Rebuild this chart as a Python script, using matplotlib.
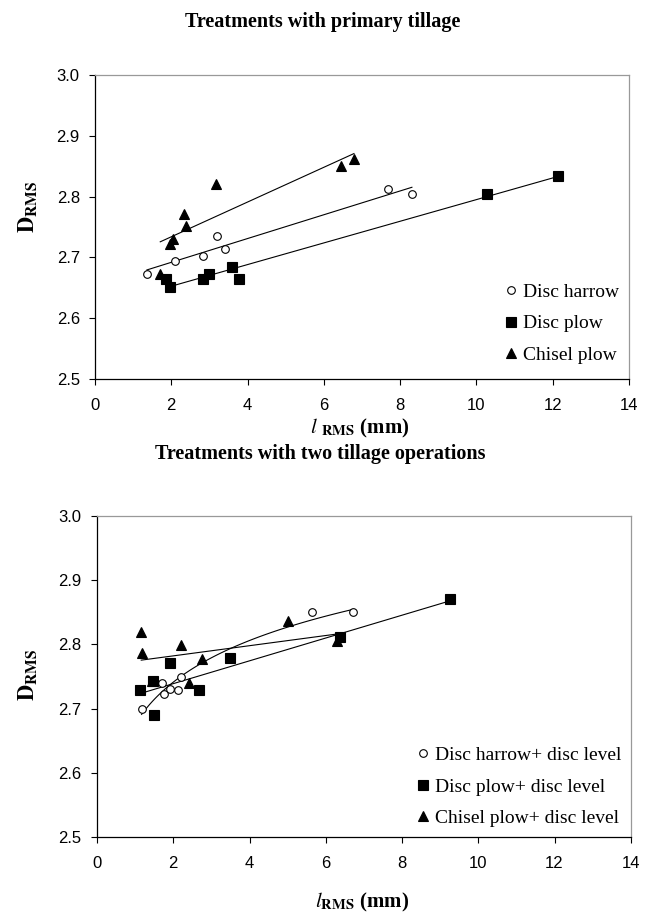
import numpy as np
import matplotlib
matplotlib.use('Agg')
import matplotlib.pyplot as plt

plt.rcParams['mathtext.fontset'] = 'stix'

# primary tillage (top panel)
dh_x = [1.36, 2.09, 2.84, 3.21, 3.40, 7.68, 8.31]
dh_y = [2.673, 2.694, 2.702, 2.735, 2.713, 2.813, 2.804]
dp_x = [1.87, 1.97, 2.84, 3.00, 3.59, 3.77, 10.28, 12.15]
dp_y = [2.664, 2.651, 2.665, 2.673, 2.684, 2.664, 2.804, 2.833]
cp_x = [1.71, 1.97, 2.04, 2.34, 2.39, 3.18, 6.44, 6.79]
cp_y = [2.673, 2.722, 2.731, 2.771, 2.752, 2.820, 2.851, 2.861]

# two tillage operations (bottom panel)
dhl_x = [1.17, 1.70, 1.75, 1.91, 2.12, 2.19, 5.63, 6.71]
dhl_y = [2.700, 2.740, 2.722, 2.731, 2.729, 2.749, 2.850, 2.850]
dpl_x = [1.14, 1.50, 1.47, 1.91, 2.68, 3.50, 6.38, 9.26]
dpl_y = [2.729, 2.690, 2.743, 2.771, 2.729, 2.778, 2.811, 2.870]
cpl_x = [1.16, 1.19, 1.44, 2.20, 2.40, 2.76, 5.02, 6.30]
cpl_y = [2.819, 2.787, 2.743, 2.799, 2.740, 2.777, 2.837, 2.806]

x_ticks = [0, 2, 4, 6, 8, 10, 12, 14]
y_ticks = [2.5, 2.6, 2.7, 2.8, 2.9, 3.0]

serif = 'Liberation Serif'
sans = 'Liberation Sans'


def trend(ax, x, y, kind='linear'):
    x = np.array(x)
    y = np.array(y)
    xs = np.linspace(x.min(), x.max(), 100)
    if kind == 'log':
        b, a = np.polyfit(np.log(x), y, 1)
        ys = a + b * np.log(xs)
    else:
        b, a = np.polyfit(x, y, 1)
        ys = a + b * xs
    ax.plot(xs, ys, color='black', lw=0.8, zorder=2)


def style(ax):
    ax.set_xlim(0, 14)
    ax.set_ylim(2.5, 3.0)
    ax.set_xticks(x_ticks)
    ax.set_yticks(y_ticks)
    ax.set_xticklabels([str(t) for t in x_ticks], fontfamily=sans, fontsize=12)
    ax.set_yticklabels(['%.1f' % t for t in y_ticks], fontfamily=sans, fontsize=12)
    ax.tick_params(direction='out', length=4, width=0.8, color='black', pad=7)
    ax.tick_params(axis='x', pad=10)
    for s in ['top', 'right']:
        ax.spines[s].set_color('#999999')
    for s in ['left', 'bottom']:
        ax.spines[s].set_color('black')
    for s in ax.spines.values():
        s.set_linewidth(0.9)


def scatter_set(ax, x, y, marker, face, ms, label):
    ax.plot(x, y, ls='none', marker=marker, mfc=face, mec='black', mew=0.8,
            ms=ms, label=label, zorder=3)


fig = plt.figure(figsize=(6.51, 9.22), dpi=100)

ax1 = fig.add_axes([0.146, 0.589, 0.820, 0.3297])
scatter_set(ax1, dh_x, dh_y, 'o', 'white', 5.5, 'Disc harrow')
scatter_set(ax1, dp_x, dp_y, 's', 'black', 6.5, 'Disc plow')
scatter_set(ax1, cp_x, cp_y, '^', 'black', 7.5, 'Chisel plow')
trend(ax1, dh_x, dh_y)
trend(ax1, dp_x, dp_y)
trend(ax1, cp_x, cp_y)
style(ax1)
ax1.legend(loc='lower right', bbox_to_anchor=(1.0, 0.017), frameon=False,
           prop={'family': serif, 'size': 14}, handletextpad=0.1,
           labelspacing=0.72, handlelength=1.0, borderaxespad=0.1)

ax2 = fig.add_axes([0.149, 0.0922, 0.820, 0.3482])
scatter_set(ax2, dhl_x, dhl_y, 'o', 'white', 5.5, 'Disc harrow+ disc level')
scatter_set(ax2, dpl_x, dpl_y, 's', 'black', 6.5, 'Disc plow+ disc level')
scatter_set(ax2, cpl_x, cpl_y, '^', 'black', 7.5, 'Chisel plow+ disc level')
trend(ax2, dhl_x, dhl_y, kind='log')
trend(ax2, dpl_x, dpl_y)
trend(ax2, cpl_x, cpl_y)
style(ax2)
ax2.legend(loc='lower right', bbox_to_anchor=(1.0, 0.0), frameon=False,
           prop={'family': serif, 'size': 14}, handletextpad=0.1,
           labelspacing=0.72, handlelength=1.0, borderaxespad=0.1)

# titles and axis labels
fig.text(0.496, 0.976, 'Treatments with primary tillage', ha='center', va='center',
         fontfamily=serif, fontweight='bold', fontsize=14.5)
fig.text(0.492, 0.508, 'Treatments with two tillage operations', ha='center', va='center',
         fontfamily=serif, fontweight='bold', fontsize=14.5)
fig.text(0.553, 0.535, r'$\mathit{l}$ $_{\mathbf{RMS}}$ (mm)', ha='center', va='center',
         fontfamily=serif, fontweight='bold', fontsize=15)
fig.text(0.556, 0.021, r'$\mathit{l}_{\mathbf{RMS}}$ (mm)', ha='center', va='center',
         fontfamily=serif, fontweight='bold', fontsize=15)
fig.text(0.043, 0.776, r'$\mathbf{D}_{\mathbf{RMS}}$', ha='center', va='center',
         rotation=90, fontsize=16)
fig.text(0.043, 0.268, r'$\mathbf{D}_{\mathbf{RMS}}$', ha='center', va='center',
         rotation=90, fontsize=16)

fig.savefig('out.png', dpi=100)
